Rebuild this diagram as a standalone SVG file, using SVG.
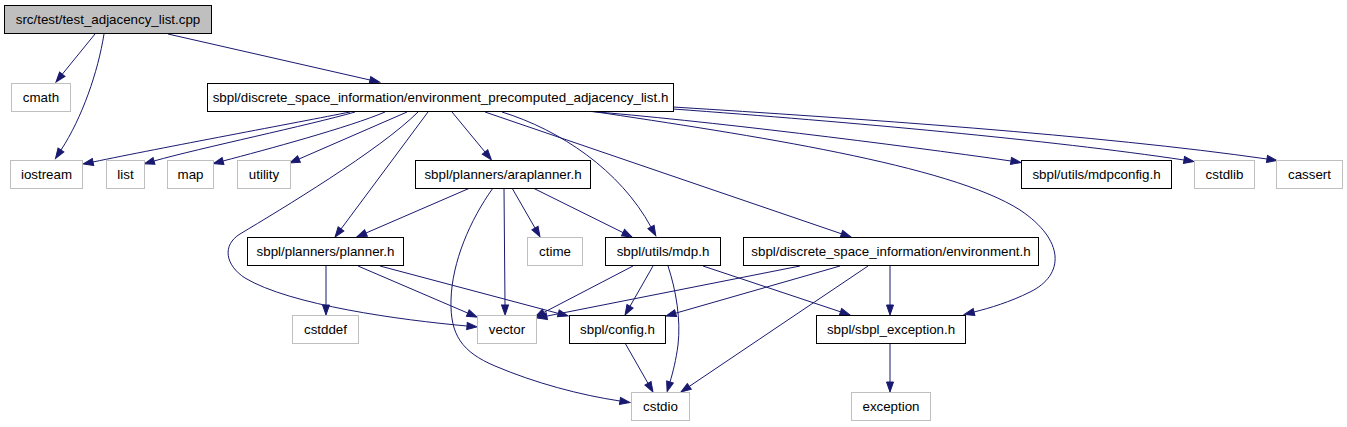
<svg xmlns="http://www.w3.org/2000/svg" width="1347" height="427" viewBox="0 0 1347 427">
<style>
text{font-family:"Liberation Sans",Arial,sans-serif;font-size:13.33px;fill:#000;text-anchor:middle}
.d rect{fill:#fff;stroke:#000;stroke-width:1}
.u rect{fill:#fff;stroke:#bfbfbf;stroke-width:1}
.r rect{fill:#bfbfbf;stroke:#000;stroke-width:1}
#edges path{fill:none;stroke:#191970;stroke-width:1;marker-end:url(#a)}
</style>
<defs>
<marker id="a" markerWidth="11" markerHeight="8" refX="0" refY="3.5" orient="auto" markerUnits="userSpaceOnUse" overflow="visible">
<path d="M0,0 L10,3.5 L0,7 z" fill="#191970" stroke="#191970" stroke-width="1"/>
</marker>
</defs>
<rect width="1347" height="427" fill="#fff"/>
<g id="edges">
<path d="M95,34 L62.3,74.2"/>
<path d="M104,34 C98,72 82,118 61,150"/>
<path d="M168,34 L370,80"/>
<path d="M350,112 C300,122 160,148 93,162"/>
<path d="M355,112 C310,125 200,148 154,161"/>
<path d="M385,112 C350,127 265,150 223,161"/>
<path d="M407,112 L299,159"/>
<path d="M418,112 C380,150 280,210 240,234 C222,245 225,265 245,278 C290,305 400,320 467,326"/>
<path d="M428,112 L341,229"/>
<path d="M452,112 L485,152"/>
<path d="M502,112 C560,130 620,170 651,227"/>
<path d="M485,112 L841.5,233.8"/>
<path d="M590,111 C750,135 950,165 1020,210 C1065,240 1065,275 1030,292 C1010,302 990,308 974,312"/>
<path d="M585,111 C700,120 900,145 1011,161"/>
<path d="M673,109 C850,122 1050,140 1184,160"/>
<path d="M673,107 C850,118 1100,135 1267,159"/>
<path d="M470,188 L366,233"/>
<path d="M493,188 C470,220 452,262 451,300 C450,335 462,352 495,366 C535,383 580,395 620,401"/>
<path d="M504,188 L505,305"/>
<path d="M512,188 L535,228"/>
<path d="M533,188 L623,232.6"/>
<path d="M326,265 L326,305"/>
<path d="M358,266 L467.8,313.1"/>
<path d="M380,266 L558.3,313.4"/>
<path d="M633,266 L543.9,312.4"/>
<path d="M653,266 L630,306.3"/>
<path d="M668,266 C676,290 681,320 678,345 C676,360 673,372 670,382"/>
<path d="M703,266 L840.5,311.8"/>
<path d="M800,266 L546.8,316.1"/>
<path d="M840,266 L675.6,313.2"/>
<path d="M868,266 L689.3,386.4"/>
<path d="M890,266 L890,305"/>
<path d="M625,343 L648,383.3"/>
<path d="M890,343 L890,382"/>
</g>
<g id="n_root" class="r"><rect x="4.5" y="5.5" width="207" height="28"/><text x="108" y="24">src/test/test_adjacency_list.cpp</text></g>
<g id="n_cmath" class="u"><rect x="11.5" y="83.5" width="59" height="28"/><text x="41" y="102">cmath</text></g>
<g id="n_envpre" class="d"><rect x="207.5" y="83.5" width="466" height="28"/><text x="440.5" y="102">sbpl/discrete_space_information/environment_precomputed_adjacency_list.h</text></g>
<g id="n_iostream" class="u"><rect x="10.5" y="160.5" width="72" height="28"/><text x="46.5" y="179">iostream</text></g>
<g id="n_list" class="u"><rect x="106.5" y="160.5" width="38" height="28"/><text x="125.5" y="179">list</text></g>
<g id="n_map" class="u"><rect x="167.5" y="160.5" width="46" height="28"/><text x="190.5" y="179">map</text></g>
<g id="n_utility" class="u"><rect x="237.5" y="160.5" width="53" height="28"/><text x="264" y="179">utility</text></g>
<g id="n_araplanner" class="d"><rect x="415.5" y="160.5" width="175" height="28"/><text x="503" y="179">sbpl/planners/araplanner.h</text></g>
<g id="n_mdpconfig" class="d"><rect x="1021.5" y="160.5" width="150" height="28"/><text x="1096.5" y="179">sbpl/utils/mdpconfig.h</text></g>
<g id="n_cstdlib" class="u"><rect x="1194.5" y="160.5" width="60" height="28"/><text x="1224.5" y="179">cstdlib</text></g>
<g id="n_cassert" class="u"><rect x="1276.5" y="160.5" width="66" height="28"/><text x="1309.5" y="179">cassert</text></g>
<g id="n_planner" class="d"><rect x="247.5" y="237.5" width="156" height="28"/><text x="325.5" y="256">sbpl/planners/planner.h</text></g>
<g id="n_ctime" class="u"><rect x="527.5" y="237.5" width="55" height="28"/><text x="555" y="256">ctime</text></g>
<g id="n_mdp" class="d"><rect x="605.5" y="237.5" width="115" height="28"/><text x="663" y="256">sbpl/utils/mdp.h</text></g>
<g id="n_environment" class="d"><rect x="743.5" y="237.5" width="295" height="28"/><text x="891" y="256">sbpl/discrete_space_information/environment.h</text></g>
<g id="n_cstddef" class="u"><rect x="292.5" y="315.5" width="66" height="28"/><text x="325.5" y="334">cstddef</text></g>
<g id="n_vector" class="u"><rect x="477.5" y="315.5" width="59" height="28"/><text x="507" y="334">vector</text></g>
<g id="n_config" class="d"><rect x="569.5" y="315.5" width="96" height="28"/><text x="617.5" y="334">sbpl/config.h</text></g>
<g id="n_sbplexc" class="d"><rect x="816.5" y="315.5" width="149" height="28"/><text x="891" y="334">sbpl/sbpl_exception.h</text></g>
<g id="n_cstdio" class="u"><rect x="631.5" y="392.5" width="58" height="28"/><text x="660.5" y="411">cstdio</text></g>
<g id="n_exception" class="u"><rect x="851.5" y="392.5" width="79" height="28"/><text x="891" y="411">exception</text></g>
</svg>
